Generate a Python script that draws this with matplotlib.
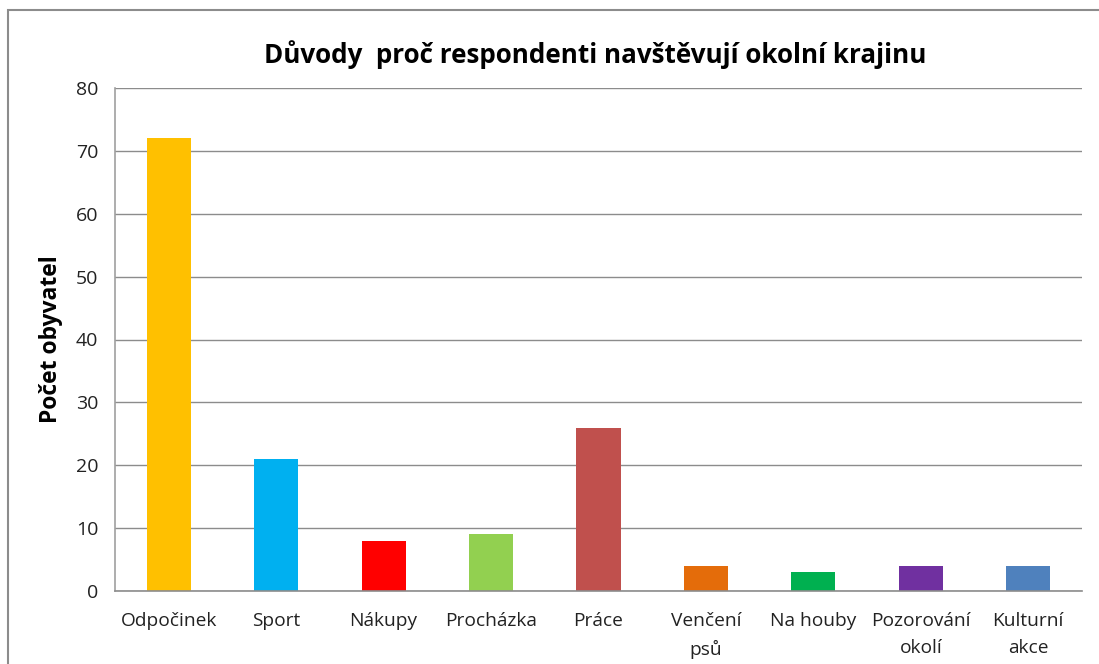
import matplotlib
matplotlib.use("Agg")
import matplotlib.pyplot as plt
from matplotlib.patches import Rectangle

categories = ["Odpočinek", "Sport", "Nákupy", "Procházka", "Práce",
              "Venčení\npsů", "Na houby", "Pozorování\nokolí", "Kulturní\nakce"]
values = [72, 21, 8, 9, 26, 4, 3, 4, 4]
colors = ["#FFC000", "#00B0F0", "#FF0000", "#92D050", "#C0504D",
          "#E46C0A", "#00B050", "#7030A0", "#4F81BD"]
yticks = [0, 10, 20, 30, 40, 50, 60, 70, 80]

plt.rcParams['font.family'] = ['Open Sans', 'DejaVu Sans']

W, H = 1099, 664
fig = plt.figure(figsize=(W / 100, H / 100), dpi=100)
ax = fig.add_axes([115 / W, 1 - 591 / H, (1082 - 115) / W, (591 - 88) / H])

x = list(range(len(categories)))
ax.bar(x, values, width=0.41, color=colors, zorder=3)
ax.set_xlim(-0.5, len(categories) - 0.5)
ax.set_ylim(0, 80)
ax.set_yticks(yticks)
ax.set_xticks(x)
ax.set_xticklabels(categories, fontsize=13.8, color="#222222", linespacing=1.65)
ax.tick_params(axis="y", labelsize=14, labelcolor="#222222", length=0, pad=12)
ax.tick_params(axis="x", length=0, pad=15)
ax.grid(axis="y", color="#8c8c8c", linewidth=1, zorder=0)
for s in ["top", "right"]:
    ax.spines[s].set_visible(False)
for s in ["left", "bottom"]:
    ax.spines[s].set_color("#a0a0a0")
    ax.spines[s].set_linewidth(1.2)
ax.spines["bottom"].set_color("#8c8c8c")
ax.spines["bottom"].set_zorder(4)

ax.set_ylabel("Počet obyvatel", fontsize=16.5, fontweight="bold", labelpad=9.5)
fig.text(595 / W, 1 - 55 / H, "Důvody  proč respondenti navštěvují okolní krajinu",
         ha="center", va="center", fontsize=18.7, fontweight="bold")

fig.patches.append(Rectangle((8 / W, -0.1), 1.2, (H - 10) / H + 0.1,
                             transform=fig.transFigure, fill=False,
                             edgecolor="#8c8c8c", linewidth=1.5))

fig.savefig("out.png", dpi=100)
